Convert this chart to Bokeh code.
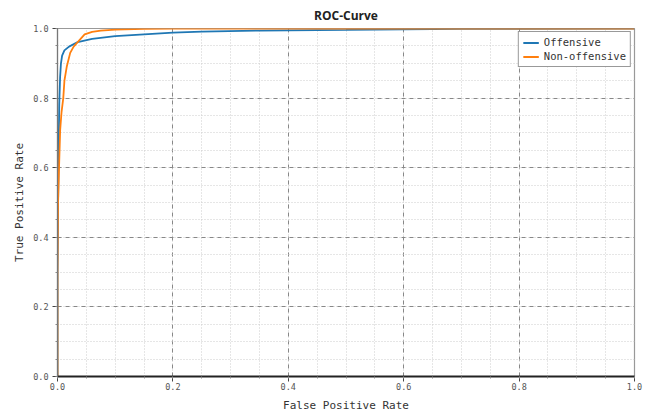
from bokeh.plotting import figure
from bokeh.models import FixedTicker, Range1d, PrintfTickFormatter
from bokeh.embed import file_html
from bokeh.resources import INLINE

# ROC curve points
off_fpr = [0, 0, 0.001, 0.002, 0.003, 0.0045, 0.006, 0.008, 0.012, 0.02, 0.035, 0.06, 0.1, 0.2, 0.25, 0.35, 0.5, 0.7, 1.0]
off_tpr = [0, 0.3, 0.5, 0.65, 0.78, 0.86, 0.9, 0.922, 0.937, 0.948, 0.961, 0.970, 0.978, 0.988, 0.991, 0.994, 0.996, 0.999, 1.0]
non_fpr = [0, 0, 0.001, 0.003, 0.0046, 0.007, 0.010, 0.012, 0.016, 0.022, 0.028, 0.035, 0.047, 0.06, 0.075, 0.1, 0.15, 0.2, 1.0]
non_tpr = [0, 0.3, 0.5, 0.62, 0.708, 0.76, 0.8, 0.85, 0.89, 0.93, 0.948, 0.961, 0.983, 0.99, 0.994, 0.997, 0.999, 1.0, 1.0]

major_ticks = [0.0, 0.2, 0.4, 0.6, 0.8, 1.0]
minor_ticks = [i * 0.05 for i in range(21)]

MONO = "DejaVu Sans Mono"

p = figure(width=646, height=414, output_backend="svg", toolbar_location=None,
           x_range=Range1d(0, 1), y_range=Range1d(0, 1),
           min_border_left=57, min_border_right=12, min_border_top=4, min_border_bottom=10)
p.title.text = "ROC-Curve"
p.title.align = "center"
p.title.text_font = "Open Sans"
p.title.text_font_size = "12px"
p.title.text_font_style = "bold"
p.title.text_color = "#222222"
p.title.standoff = 9
p.outline_line_color = "#999999"
p.outline_line_width = 1.2

p.line(off_fpr, off_tpr, color="#1f77b4", line_width=1.8, legend_label="Offensive")
p.line(non_fpr, non_tpr, color="#ff7f0e", line_width=1.8, legend_label="Non-offensive")

ticker = FixedTicker(ticks=major_ticks, minor_ticks=minor_ticks)
for ax in (p.xaxis[0], p.yaxis[0]):
    ax.ticker = ticker
    ax.formatter = PrintfTickFormatter(format="%.1f")
    ax.major_label_text_font = MONO
    ax.major_label_text_font_size = "8.5px"
    ax.major_label_text_color = "#555555"
    ax.axis_label_text_font = MONO
    ax.axis_label_text_font_size = "11px"
    ax.axis_label_text_font_style = "normal"
    ax.axis_label_text_color = "#333333"
    ax.major_tick_out = 5
    ax.major_tick_in = 0
    ax.minor_tick_out = 2
    ax.minor_tick_in = 0
    ax.major_tick_line_color = "#444444"
    ax.minor_tick_line_color = "#888888"

p.xaxis[0].major_label_standoff = 1
p.yaxis[0].major_label_standoff = 4
p.xaxis[0].axis_label = "False Positive Rate"
p.yaxis[0].axis_label = "True Positive Rate"
p.xaxis[0].axis_line_color = "#222222"
p.xaxis[0].axis_line_width = 2
p.yaxis[0].axis_line_color = "#777777"
p.yaxis[0].axis_line_width = 1.2
p.xaxis[0].axis_label_standoff = 6
p.yaxis[0].axis_label_standoff = 4

for g in (p.xgrid[0], p.ygrid[0]):
    g.ticker = ticker
    g.grid_line_color = "#888888"
    g.grid_line_dash = "4 4"
    g.grid_line_width = 1
    g.minor_grid_line_color = "#cccccc"
    g.minor_grid_line_dash = "1 2"
    g.minor_grid_line_width = 1

lg = p.legend[0]
lg.location = "top_right"
lg.margin = 3
lg.padding = 4
lg.spacing = 2
lg.label_height = 11
lg.glyph_height = 11
lg.glyph_width = 16
lg.label_text_font = MONO
lg.label_text_font_size = "10.5px"
lg.label_text_color = "#333333"
lg.border_line_color = "#333333"
lg.border_line_width = 1.5
lg.background_fill_alpha = 1.0

open("out.html", "w").write(file_html(p, INLINE))
